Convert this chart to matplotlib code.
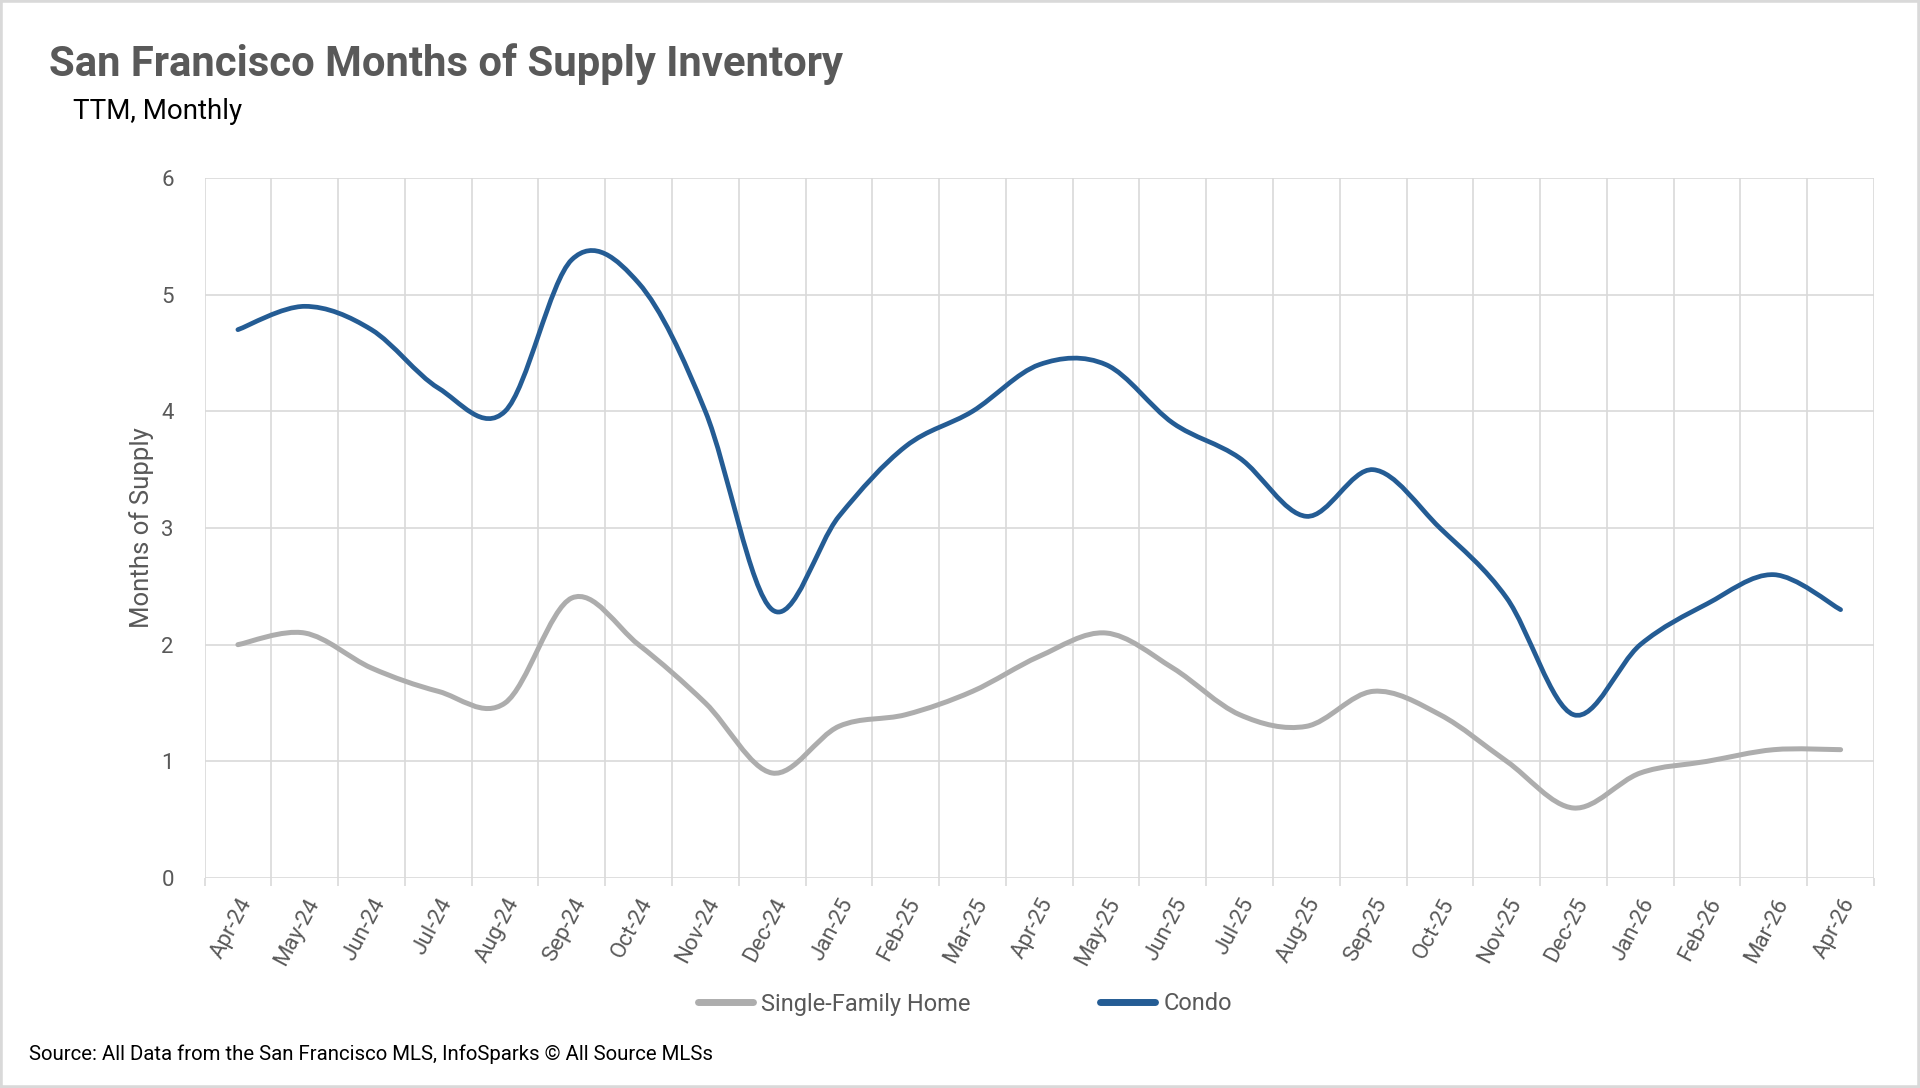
import numpy as np
import matplotlib
matplotlib.use('Agg')
import matplotlib.pyplot as plt
from matplotlib.path import Path
from matplotlib.patches import PathPatch, Rectangle
from matplotlib.lines import Line2D
from matplotlib import font_manager

months = ['Apr-24', 'May-24', 'Jun-24', 'Jul-24', 'Aug-24', 'Sep-24', 'Oct-24',
          'Nov-24', 'Dec-24', 'Jan-25', 'Feb-25', 'Mar-25', 'Apr-25', 'May-25',
          'Jun-25', 'Jul-25', 'Aug-25', 'Sep-25', 'Oct-25', 'Nov-25', 'Dec-25',
          'Jan-26', 'Feb-26', 'Mar-26', 'Apr-26']

single_family = [2.0, 2.1, 1.8, 1.6, 1.5, 2.4, 2.0, 1.5, 0.9, 1.3, 1.4, 1.6, 1.9,
                 2.1, 1.8, 1.4, 1.3, 1.6, 1.4, 1.0, 0.6, 0.9, 1.0, 1.1, 1.1]
condo = [4.7, 4.9, 4.7, 4.2, 4.0, 5.3, 5.1, 4.0, 2.3, 3.1, 3.7, 4.0, 4.4,
         4.4, 3.9, 3.6, 3.1, 3.5, 3.0, 2.4, 1.4, 2.0, 2.35, 2.6, 2.3]

yticks = [0, 1, 2, 3, 4, 5, 6]


def pick_font(names):
    for n in names:
        try:
            font_manager.findfont(n, fallback_to_default=False)
            return n
        except Exception:
            pass
    return 'DejaVu Sans'


regular = pick_font(['Roboto', 'DejaVu Sans'])
plt.rcParams['font.family'] = [regular, 'DejaVu Sans']


def smooth_path(xs, ys):
    # excel style smoothed line: catmull-rom as cubic bezier
    pts = np.column_stack([xs, ys]).astype(float)
    n = len(pts)
    verts = [pts[0]]
    codes = [Path.MOVETO]
    for i in range(n - 1):
        p0 = pts[max(i - 1, 0)]
        p1 = pts[i]
        p2 = pts[i + 1]
        p3 = pts[min(i + 2, n - 1)]
        verts += [p1 + (p2 - p0) / 6, p2 - (p3 - p1) / 6, p2]
        codes += [Path.CURVE4] * 3
    return Path(verts, codes)


grey_txt = '#595959'
grid_c = '#D9D9D9'
sfh_c = '#ADADAD'
condo_c = '#245C94'

fig = plt.figure(figsize=(19.2, 10.88), dpi=100)
ax = fig.add_axes([204.5 / 1920, 1 - 878 / 1088, (1874 - 204.5) / 1920, 700 / 1088])

x = np.arange(len(months))
ax.add_patch(PathPatch(smooth_path(x, single_family), fill=False, edgecolor=sfh_c,
                       lw=3.6, capstyle='round', joinstyle='round', zorder=3))
ax.add_patch(PathPatch(smooth_path(x, condo), fill=False, edgecolor=condo_c,
                       lw=3.4, capstyle='round', joinstyle='round', zorder=4))

ax.set_xlim(-0.5, len(months) - 0.5)
ax.set_ylim(0, 6)
ax.set_yticks(yticks)
ax.set_yticklabels([str(v) for v in yticks], fontsize=16, color=grey_txt)
ax.set_xticks(x)
ax.set_xticklabels(months, rotation=62, ha='right', va='top', rotation_mode='anchor',
                   fontsize=16, color=grey_txt)
ax.set_xticks(np.arange(len(months) + 1) - 0.5, minor=True)
ax.tick_params(axis='x', which='major', length=0, pad=12)
ax.tick_params(axis='x', which='minor', length=6, color=grid_c, width=1.2)
ax.tick_params(axis='y', length=0, pad=22)
ax.grid(True, axis='y', which='major', color=grid_c, lw=1.2)
ax.grid(True, axis='x', which='minor', color=grid_c, lw=1.2)
ax.grid(False, axis='x', which='major')
for s in ax.spines.values():
    s.set_visible(False)
ax.set_axisbelow(True)

fig.text(142 / 1920, 1 - 528 / 1088, 'Months of Supply', rotation=90, ha='center',
         va='center', fontsize=18.5, color=grey_txt)

fig.text(49 / 1920, 1 - 76 / 1088, 'San Francisco Months of Supply Inventory',
         fontsize=30.2, fontweight='bold', color=grey_txt, va='baseline', ha='left')
fig.text(73 / 1920, 1 - 119 / 1088, 'TTM, Monthly', fontsize=20, color='black',
         va='baseline', ha='left')

handles = [Line2D([], [], color=sfh_c, lw=5, solid_capstyle='round'),
           Line2D([], [], color=condo_c, lw=5, solid_capstyle='round')]
fig.legend(handles, ['Single-Family Home', 'Condo'], loc='center',
           bbox_to_anchor=(965 / 1920, 1 - 1004 / 1088), ncol=2, frameon=False,
           handlelength=2.3, handletextpad=0.36, columnspacing=5.5,
           prop={'size': 17}, labelcolor=grey_txt)

fig.text(29 / 1920, 1 - 1060 / 1088,
         'Source: All Data from the San Francisco MLS, InfoSparks \u00a9 All Source MLSs',
         fontsize=14.7, color='black', va='baseline', ha='left')

fig.patches.append(Rectangle((0, 0), 1, 1, transform=fig.transFigure, fill=False,
                             edgecolor=grid_c, lw=4))

fig.savefig('out.png', dpi=100, facecolor='white')
